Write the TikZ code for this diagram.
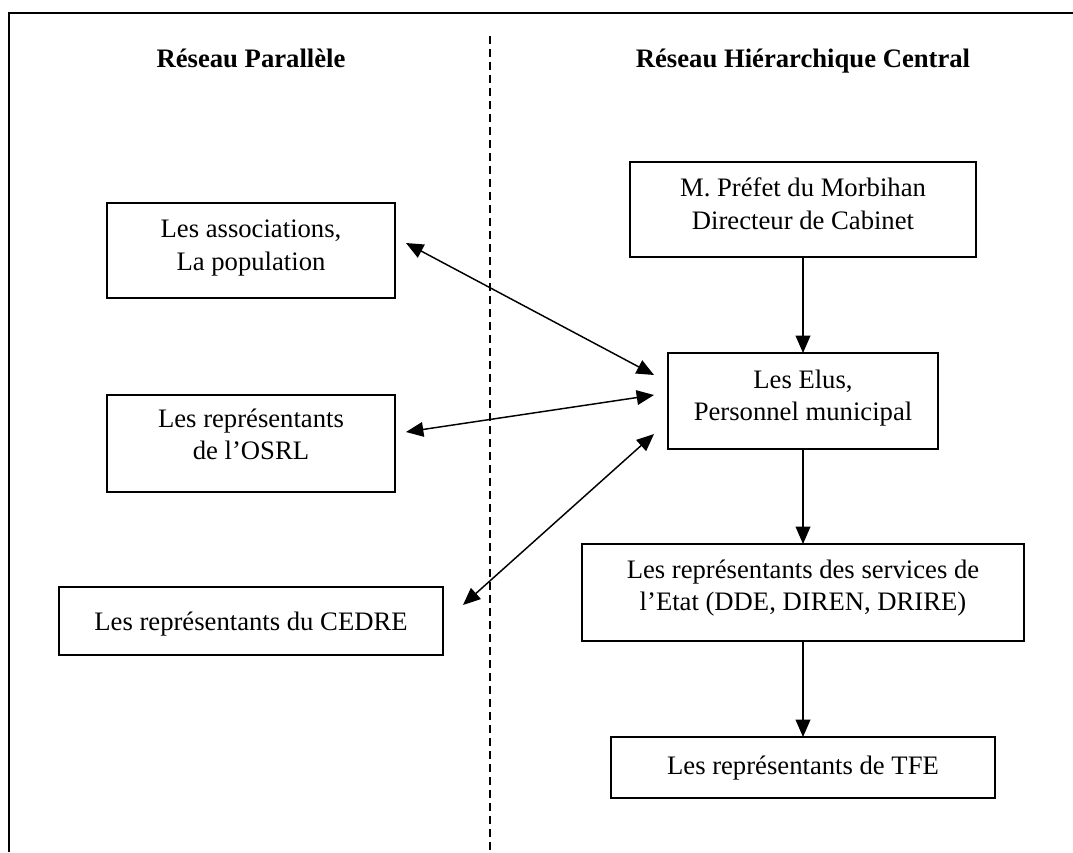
\documentclass[tikz,border=0pt]{standalone}
\usepackage{fontspec}
\setmainfont{Liberation Serif}
\usetikzlibrary{arrows.meta}
\newlength\pxu
\setlength\pxu{0.75pt}
% box text: width, height, first-baseline offset, contents (all sizes in px)
\newcommand\boxtxt[4]{\parbox[c][#2\pxu][t]{#1\pxu}{\centering\rule{0pt}{#3\pxu}#4\par}}
\tikzset{
  box/.style={draw, line width=1.1pt, inner sep=0pt, outer sep=0pt},
  title/.style={anchor=base, font=\fontsize{20}{24}\selectfont\bfseries},
  tip/.tip={Triangle[length=13pt,width=11pt]},
  link/.style={line width=1.1pt, -tip},
  dbl/.style={line width=1.1pt, tip-tip},
  frame/.style={line width=1.5pt},
  divider/.style={line width=1.3pt, dash pattern=on 6pt off 3.75pt}
}
\begin{document}
\begin{tikzpicture}[x=0.75pt, y=-0.75pt, font=\fontsize{20}{24}\selectfont]
\useasboundingbox (0,0) rectangle (1073,852);

% outer frame (top and left edges) and column divider
\draw[frame] (9,852) -- (9,13) -- (1073,13);
\draw[divider] (490,36) -- (490,852);

% column headings
\node[title] (hpar) at (251,68) {Réseau Parallèle};
\node[title] (hcen) at (803,68) {Réseau Hiérarchique Central};

% parallel network
\node[box] (assoc) at (251,250.5) {\boxtxt{288}{95}{35}{Les associations,\\La population}};
\node[box] (osrl)  at (251,443.5) {\boxtxt{288}{97}{32}{Les représentants\\de l’OSRL}};
\node[box] (cedre) at (251,621)   {\boxtxt{384}{68}{43}{Les représentants du CEDRE}};

% central hierarchy
\node[box] (prefet)   at (803,209.5) {\boxtxt{346}{95}{35}{M. Préfet du Morbihan\\Directeur de Cabinet}};
\node[box] (elus)     at (803,401)   {\boxtxt{270}{96}{35}{Les Elus,\\Personnel municipal}};
\node[box] (services) at (803,592.5) {\boxtxt{442}{97}{34}{Les représentants des services de\\l’Etat (DDE, DIREN, DRIRE)}};
\node[box] (tfe)      at (803,767.5) {\boxtxt{384}{61}{37}{Les représentants de TFE}};

% hierarchy links
\draw[link] (prefet.south) -- (elus.north);
\draw[link] (elus.south) -- (services.north);
\draw[link] (services.south) -- (tfe.north);

% exchanges with the parallel network
\draw[dbl] ([shift={(11,-7.5)}]assoc.east) -- ([shift={(-14,-26)}]elus.west);
\draw[dbl] ([shift={(11,-11.5)}]osrl.east) -- ([shift={(-14,-6)}]elus.west);
\draw[dbl] ([shift={(20,-16)}]cedre.east) -- ([shift={(-14,33)}]elus.west);
\end{tikzpicture}
\end{document}
